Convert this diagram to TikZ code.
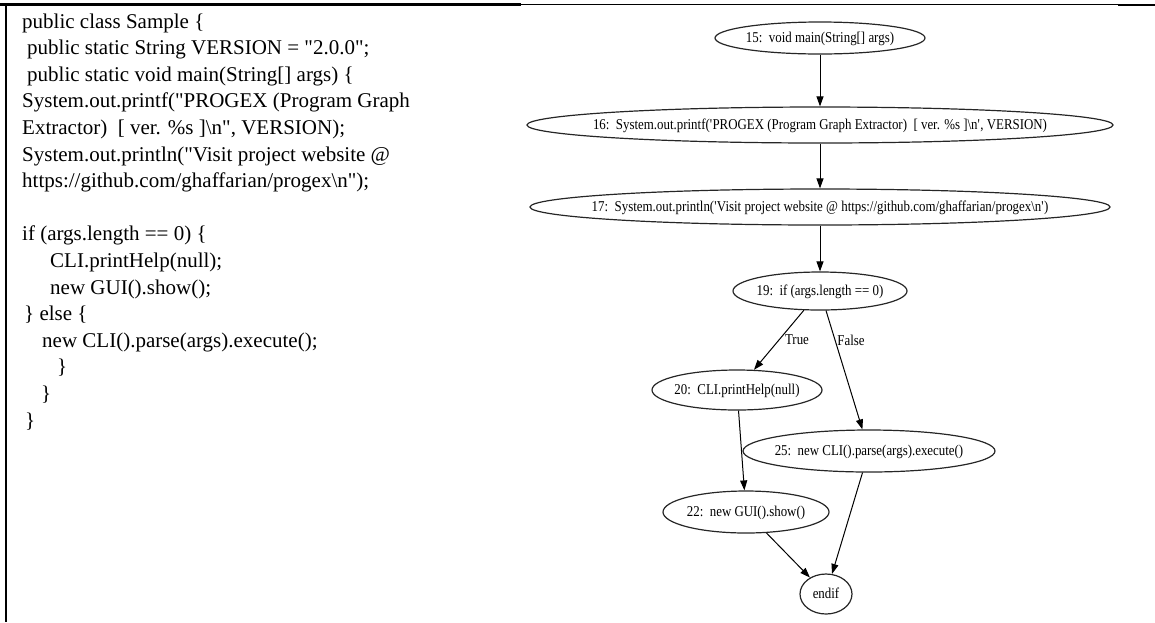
\documentclass[tikz,border=0pt]{standalone}
\usepackage{fontspec}
\setmainfont{Liberation Serif}
\newfontfamily\gvfont[FakeStretch=0.86]{Liberation Serif}
\usetikzlibrary{arrows.meta,shapes.geometric}
\newcommand{\gvtext}[1]{\makebox[0pt]{\raisebox{-0.33em}[0pt][0pt]{#1}}}
\newcommand{\qq}{\textquotedbl}
\begin{document}
\begin{tikzpicture}[x=1pt,y=-1pt,
  codeline/.style={anchor=base west, inner sep=0pt, font=\fontsize{21}{26}\selectfont},
  gnode/.style={draw=black!85, ellipse, line width=1.2pt, inner sep=0pt, font=\gvfont\fontsize{15}{17}\selectfont},
  edge/.style={line width=1pt, -{Triangle[length=10pt,width=7pt]}},
  lbl/.style={inner sep=0pt, font=\gvfont\fontsize{15}{17}\selectfont}]
\useasboundingbox (0,0) rectangle (1155,622);
% table borders
\draw[line width=2.5pt] (0,4.5) -- (521,4.5);
\draw[line width=1.3pt] (521,4.5) -- (1118,4.5);
\draw[line width=2.2pt] (1118,5) -- (1155,5);
\draw[line width=2.2pt] (6.2,3.5) -- (6.2,622);
% code
\node[codeline] (c0)  at (22,28)    {public class Sample \{};
\node[codeline] (c1)  at (27,54.6)  {public static String VERSION = \qq 2.0.0\qq;};
\node[codeline] (c2)  at (27,81.2)  {public static void main(String[] args) \{};
\node[codeline] (c3)  at (22,107.8) {System.out.printf(\qq PROGEX (Program Graph};
\node[codeline] (c4)  at (22,134.4) {Extractor)\ \ [ ver. \%s ]\textbackslash n\qq, VERSION);};
\node[codeline] (c5)  at (22,161)   {System.out.println(\qq Visit project website @};
\node[codeline] (c6)  at (22,187.6) {https://github.com/ghaffarian/progex\textbackslash n\qq);};
\node[codeline] (c8)  at (22,240.8) {if (args.length == 0) \{};
\node[codeline] (c9)  at (50,267.4) {CLI.printHelp(null);};
\node[codeline] (c10) at (50,294)   {new GUI().show();};
\node[codeline] (c11) at (24,320.6) {\} else \{};
\node[codeline] (c12) at (42,347.2) {new CLI().parse(args).execute();};
\node[codeline] (c13) at (57,373.8) {\}};
\node[codeline] (c14) at (41,400.4) {\}};
\node[codeline] (c15) at (25,427)   {\}};
% graph
\node[gnode, minimum width=210pt, minimum height=32pt] (n15) at (820,38) {\gvtext{15:\ \ void main(String[] args)}};
\node[gnode, minimum width=586pt, minimum height=36pt] (n16) at (820,125) {\gvtext{16:\ \ System.out.printf(\textquotesingle PROGEX (Program Graph Extractor)\ \ [ ver. \%s ]\textbackslash n\textquotesingle, VERSION)}};
\node[gnode, minimum width=580pt, minimum height=36pt] (n17) at (820,207) {\gvtext{17:\ \ System.out.println(\textquotesingle Visit project website @ https://github.com/ghaffarian/progex\textbackslash n\textquotesingle)}};
\node[gnode, minimum width=174pt, minimum height=38pt] (n19) at (820,291) {\gvtext{19:\ \ if (args.length == 0)}};
\node[gnode, minimum width=170pt, minimum height=40pt] (n20) at (737,390) {\gvtext{20:\ \ CLI.printHelp(null)}};
\node[gnode, minimum width=252pt, minimum height=42pt] (n25) at (869,451) {\gvtext{25:\ \ new CLI().parse(args).execute()}};
\node[gnode, minimum width=166pt, minimum height=42pt] (n22) at (746,512) {\gvtext{22:\ \ new GUI().show()}};
\node[gnode, minimum width=52pt, minimum height=40pt] (nend) at (826,594) {\gvtext{endif}};
\draw[edge] (n15) -- (n16);
\draw[edge] (n16) -- (n17);
\draw[edge] (n17) -- (n19);
\draw[edge] (n19) -- (n20);
\draw[edge] (n19) -- (n25);
\draw[edge] (n20) -- (n22);
\draw[edge] (n25) -- (nend);
\draw[edge] (n22) -- (nend);
\node[lbl] (lt) at (797,340) {True};
\node[lbl] (lf) at (851,340) {False};
\end{tikzpicture}
\end{document}
